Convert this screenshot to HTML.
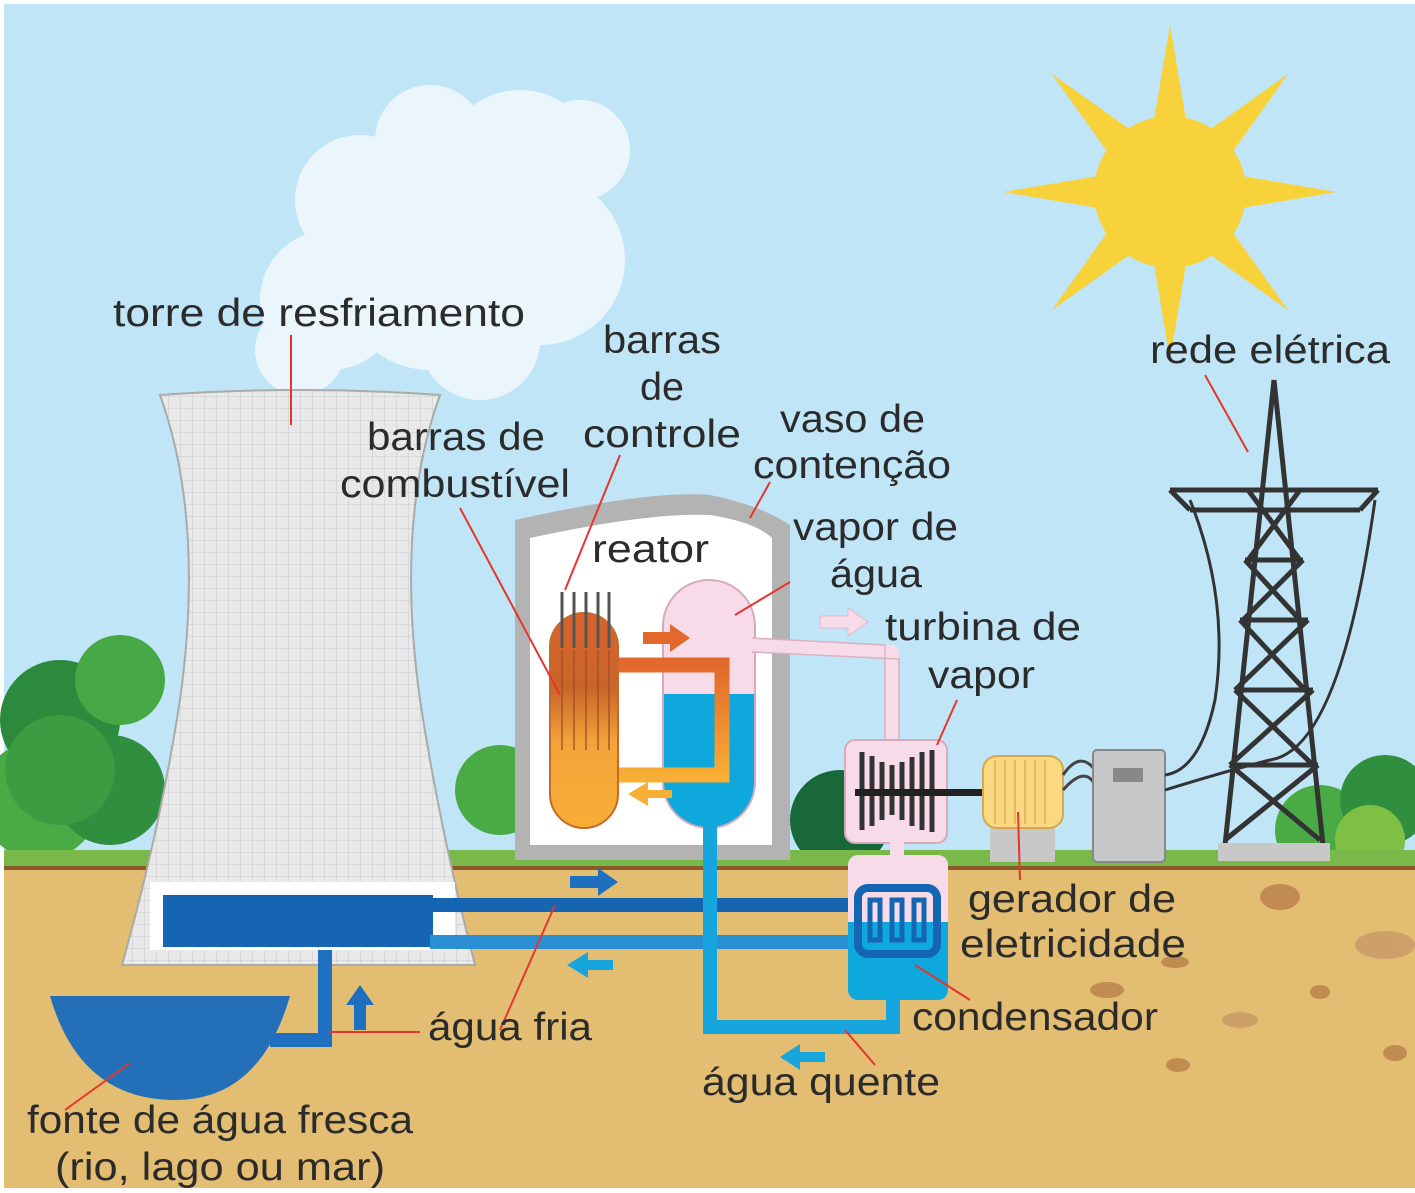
<!DOCTYPE html>
<html><head><meta charset="utf-8"><style>
html,body{margin:0;padding:0;background:#fff}
svg{display:block}
text{font-family:"Liberation Sans",sans-serif;font-size:39px;fill:#2b2b2b}
</style></head><body>
<svg width="1415" height="1193" viewBox="0 0 1415 1193" xmlns="http://www.w3.org/2000/svg">
<defs>
<linearGradient id="fuel" x1="0" y1="0" x2="0" y2="1">
<stop offset="0" stop-color="#d9642a"/><stop offset="0.35" stop-color="#c9652a"/><stop offset="0.6" stop-color="#f3a33a"/><stop offset="1" stop-color="#f7ae35"/></linearGradient>
<linearGradient id="loop" x1="0" y1="0" x2="0" y2="1">
<stop offset="0" stop-color="#e2682c"/><stop offset="1" stop-color="#f7ae35"/></linearGradient>
<pattern id="grid" width="12" height="12" patternUnits="userSpaceOnUse">
<rect width="12" height="12" fill="#e9e9ea"/><path d="M0 0H12M0 0V12" stroke="#c9c9cc" stroke-width="1"/></pattern>
</defs>
<rect x="0" y="0" width="1415" height="1193" fill="#fff"/>
<rect x="4" y="4" width="1411" height="1184" fill="#bfe5f7"/>
<!-- cloud -->
<g fill="#ebf6fc">
<circle cx="520" cy="170" r="80"/><circle cx="430" cy="140" r="55"/><circle cx="580" cy="150" r="50"/>
<circle cx="360" cy="200" r="65"/><circle cx="330" cy="300" r="70"/><circle cx="430" cy="280" r="90"/>
<circle cx="540" cy="260" r="85"/><circle cx="300" cy="350" r="45"/><circle cx="480" cy="340" r="60"/>
</g>
<!-- sun -->
<g fill="#f8d23a" transform="translate(1170,192)">
<polygon points="-18,-60 0,-167 18,-60"/>
<polygon points="-18,-60 0,-167 18,-60" transform="rotate(45)"/>
<polygon points="-18,-60 0,-167 18,-60" transform="rotate(90)"/>
<polygon points="-18,-60 0,-167 18,-60" transform="rotate(135)"/>
<polygon points="-18,-60 0,-167 18,-60" transform="rotate(180)"/>
<polygon points="-18,-60 0,-167 18,-60" transform="rotate(225)"/>
<polygon points="-18,-60 0,-167 18,-60" transform="rotate(270)"/>
<polygon points="-18,-60 0,-167 18,-60" transform="rotate(315)"/>
<circle cx="0" cy="0" r="76"/>
</g>
<!-- trees -->
<g>
<circle cx="60" cy="720" r="60" fill="#2c8a3c"/><circle cx="120" cy="680" r="45" fill="#46a845"/>
<circle cx="40" cy="800" r="60" fill="#4aab44"/><circle cx="110" cy="790" r="55" fill="#2f8f3f"/>
<circle cx="60" cy="770" r="55" fill="#3d9c42"/>
<circle cx="500" cy="790" r="45" fill="#4aab44"/>
<circle cx="840" cy="820" r="50" fill="#19683a"/>
<circle cx="1320" cy="830" r="45" fill="#4aab44"/><circle cx="1385" cy="800" r="45" fill="#2f8f3f"/>
<circle cx="1370" cy="840" r="35" fill="#7dc043"/>
</g>
<!-- ground -->
<rect x="4" y="850" width="1411" height="17" fill="#79b94a"/>
<rect x="4" y="866" width="1411" height="4" fill="#8a5a2a"/>
<rect x="4" y="870" width="1411" height="318" fill="#e2bd72"/>
<g fill="#b98048" opacity="0.8">
<ellipse cx="1280" cy="897" rx="20" ry="13"/><ellipse cx="1385" cy="945" rx="30" ry="14" fill="#c99868"/>
<ellipse cx="1107" cy="990" rx="17" ry="8"/><ellipse cx="1240" cy="1020" rx="18" ry="8" fill="#c99868"/>
<ellipse cx="1320" cy="992" rx="10" ry="7"/><ellipse cx="1395" cy="1053" rx="12" ry="8"/>
<ellipse cx="1178" cy="1065" rx="12" ry="7"/><ellipse cx="1175" cy="962" rx="14" ry="6"/>
</g>
<!-- cooling tower -->
<path d="M160 395 Q300 385 440 395 Q395 520 420 700 Q440 830 475 965 L122 965 Q160 830 180 700 Q205 520 160 395Z" fill="url(#grid)" stroke="#aaa" stroke-width="2"/>
<rect x="150" y="882" width="305" height="68" fill="#fff"/>
<rect x="163" y="895" width="270" height="52" fill="#1565b3"/>
<!-- lake -->
<path d="M50 996 L290 996 Q260 1100 175 1100 Q80 1100 50 996Z" fill="#2370b8"/>
<path d="M325 950 V1040 H270" fill="none" stroke="#1f70c0" stroke-width="14"/>
<!-- cold pipes -->
<rect x="430" y="898" width="430" height="14" fill="#1565b3"/>
<rect x="430" y="935" width="430" height="14" fill="#2a8fd3"/>
<!-- building -->
<path d="M515 520 Q650 490 710 495 Q760 505 790 525 V860 H515Z" fill="#b3b3b3"/>
<path d="M530 538 Q650 512 710 515 Q755 522 772 538 V845 H530Z" fill="#fff"/>
<!-- steam generator -->
<clipPath id="sg"><rect x="663" y="580" width="92" height="248" rx="46"/></clipPath>
<g clip-path="url(#sg)"><rect x="663" y="580" width="92" height="248" fill="#f7dbe9"/><rect x="663" y="694" width="92" height="140" fill="#0fa8dc"/></g>
<rect x="663" y="580" width="92" height="248" rx="46" fill="none" stroke="#d8a9bd" stroke-width="2"/>
<!-- orange loop -->
<path d="M615 665 H722 V775 H615" fill="none" stroke="url(#loop)" stroke-width="15"/>
<!-- reactor -->
<rect x="550" y="613" width="68" height="215" rx="34" fill="url(#fuel)" stroke="#c46a2a" stroke-width="2"/>
<g stroke="#555" stroke-width="3">
<line x1="562" y1="592" x2="562" y2="648"/><line x1="574" y1="592" x2="574" y2="648"/><line x1="586" y1="592" x2="586" y2="648"/><line x1="598" y1="592" x2="598" y2="648"/><line x1="609" y1="592" x2="609" y2="648"/>
</g>
<g stroke="#a0522a" stroke-width="2" opacity="0.7">
<line x1="562" y1="650" x2="562" y2="750"/><line x1="574" y1="650" x2="574" y2="750"/><line x1="586" y1="650" x2="586" y2="750"/><line x1="598" y1="650" x2="598" y2="750"/><line x1="609" y1="650" x2="609" y2="750"/>
</g>
<!-- arrows -->
<path d="M643 632 H670 V624 L690 638 L670 652 V644 H643Z" fill="#e2682c"/>
<path d="M672 798 H648 V806 L628 794 L648 782 V790 H672Z" fill="#f7ae35"/>
<path d="M820 616 H848 V608 L868 622 L848 636 V628 H820Z" fill="#f7dbe9" stroke="#e8b8cc"/>
<path d="M570 876 H598 V868 L618 882 L598 896 V888 H570Z" fill="#1f6fc0"/>
<path d="M613 960 H588 V952 L567 965 L588 978 V970 H613Z" fill="#16a6dd"/>
<path d="M825 1052 H800 V1044 L780 1057 L800 1070 V1062 H825Z" fill="#16a6dd"/>
<path d="M354 1030 V1005 H346 L360 985 L374 1005 H366 V1030Z" fill="#1f6fc0"/>
<!-- pink steam pipe -->
<path d="M752 645 L892 652 V742" fill="none" stroke="#f7dbe9" stroke-width="14" stroke-linejoin="round"/>
<path d="M752 638 L885 645 V742 M752 652 L899 659 V742" fill="none" stroke="#dcb0c3" stroke-width="1.5"/>
<!-- hot water pipe -->
<path d="M710 826 V1027 H893 V995" fill="none" stroke="#16a6dd" stroke-width="14"/>
<!-- turbine -->
<rect x="845" y="740" width="102" height="103" rx="10" fill="#f7dbe9" stroke="#d8a9bd" stroke-width="2"/>
<g stroke="#333" stroke-width="5">
<line x1="862" y1="752" x2="862" y2="830"/><line x1="872" y1="756" x2="872" y2="826"/><line x1="882" y1="762" x2="882" y2="820"/><line x1="892" y1="765" x2="892" y2="815"/><line x1="902" y1="762" x2="902" y2="820"/><line x1="912" y1="757" x2="912" y2="826"/><line x1="922" y1="752" x2="922" y2="830"/><line x1="932" y1="750" x2="932" y2="832"/>
</g>
<rect x="855" y="789" width="130" height="7" fill="#222"/>
<rect x="890" y="840" width="14" height="18" fill="#f7dbe9"/>
<!-- condenser -->
<clipPath id="cd"><rect x="848" y="855" width="100" height="145" rx="10"/></clipPath>
<g clip-path="url(#cd)"><rect x="848" y="855" width="100" height="145" fill="#f7dbe9"/><rect x="848" y="922" width="100" height="80" fill="#0fa8dc"/></g>
<rect x="858" y="888" width="79" height="66" rx="10" fill="none" stroke="#1565b3" stroke-width="8"/>
<g fill="none" stroke="#1565b3" stroke-width="5"><rect x="870" y="900" width="10" height="40"/><rect x="892" y="900" width="10" height="40"/><rect x="914" y="900" width="10" height="40"/></g>
<!-- generator -->
<rect x="990" y="820" width="65" height="42" fill="#c8c8c8"/>
<rect x="983" y="756" width="80" height="72" rx="14" fill="#fbd982" stroke="#d8a850" stroke-width="2"/>
<g stroke="#e6b860" stroke-width="2"><line x1="995" y1="760" x2="995" y2="824"/><line x1="1005" y1="760" x2="1005" y2="824"/><line x1="1015" y1="760" x2="1015" y2="824"/><line x1="1025" y1="760" x2="1025" y2="824"/><line x1="1035" y1="760" x2="1035" y2="824"/><line x1="1045" y1="760" x2="1045" y2="824"/></g>
<path d="M1063 775 Q1080 750 1095 770 M1063 790 Q1085 765 1095 785" fill="none" stroke="#444" stroke-width="3"/>
<!-- transformer -->
<rect x="1093" y="750" width="72" height="112" rx="4" fill="#c5c7c8" stroke="#888" stroke-width="2"/>
<rect x="1113" y="768" width="30" height="14" fill="#888"/>
<path d="M1165 775 Q1200 770 1215 700 Q1230 600 1190 500 M1165 790 Q1230 770 1270 760 Q1340 750 1375 500" fill="none" stroke="#333" stroke-width="3"/>
<!-- pylon -->
<g stroke="#333" stroke-width="5" fill="none">
<path d="M1274 380 L1225 845 M1274 380 L1323 845"/>
<path d="M1170 490 H1378 M1190 510 H1360 M1170 490 L1190 510 M1378 490 L1360 510"/>
<path d="M1248 490 L1300 560 M1300 490 L1248 560 M1245 560 H1303"/>
<path d="M1245 560 L1300 620 M1303 560 L1243 620 M1240 620 H1308 M1240 620 L1305 690 M1308 620 L1235 690 M1235 690 H1313 M1235 690 L1313 765 M1313 690 L1230 765 M1230 765 H1318 M1230 765 L1320 840 M1318 765 L1225 840"/>
</g>
<rect x="1218" y="843" width="112" height="18" fill="#c8c8c8"/>
<!-- leader lines -->
<g stroke="#e5352e" stroke-width="2" fill="none">
<line x1="291" y1="335" x2="291" y2="425"/>
<line x1="460" y1="508" x2="560" y2="695"/>
<line x1="620" y1="455" x2="565" y2="590"/>
<line x1="770" y1="482" x2="750" y2="518"/>
<line x1="790" y1="582" x2="735" y2="615"/>
<line x1="957" y1="700" x2="937" y2="745"/>
<line x1="1205" y1="375" x2="1248" y2="452"/>
<line x1="1018" y1="812" x2="1020" y2="880"/>
<line x1="915" y1="965" x2="970" y2="1000"/>
<line x1="555" y1="905" x2="500" y2="1030"/>
<line x1="330" y1="1032" x2="420" y2="1032"/>
<line x1="845" y1="1030" x2="875" y2="1065"/>
<line x1="130" y1="1063" x2="65" y2="1110"/>
</g>
<!-- labels -->
<g>
<text x="113" y="326" textLength="412" lengthAdjust="spacingAndGlyphs">torre de resfriamento</text>
<text x="603" y="353" textLength="118" lengthAdjust="spacingAndGlyphs">barras</text>
<text x="640" y="400" textLength="44" lengthAdjust="spacingAndGlyphs">de</text>
<text x="583" y="447" textLength="158" lengthAdjust="spacingAndGlyphs">controle</text>
<text x="367" y="450" textLength="178" lengthAdjust="spacingAndGlyphs">barras de</text>
<text x="340" y="497" textLength="230" lengthAdjust="spacingAndGlyphs">combustível</text>
<text x="780" y="432" textLength="145" lengthAdjust="spacingAndGlyphs">vaso de</text>
<text x="753" y="478" textLength="198" lengthAdjust="spacingAndGlyphs">contenção</text>
<text x="592" y="562" textLength="117" lengthAdjust="spacingAndGlyphs">reator</text>
<text x="793" y="540" textLength="165" lengthAdjust="spacingAndGlyphs">vapor de</text>
<text x="830" y="587" textLength="92" lengthAdjust="spacingAndGlyphs">água</text>
<text x="885" y="640" textLength="196" lengthAdjust="spacingAndGlyphs">turbina de</text>
<text x="928" y="688" textLength="107" lengthAdjust="spacingAndGlyphs">vapor</text>
<text x="1150" y="363" textLength="240" lengthAdjust="spacingAndGlyphs">rede elétrica</text>
<text x="968" y="912" textLength="208" lengthAdjust="spacingAndGlyphs">gerador de</text>
<text x="960" y="957" textLength="226" lengthAdjust="spacingAndGlyphs">eletricidade</text>
<text x="912" y="1030" textLength="246" lengthAdjust="spacingAndGlyphs">condensador</text>
<text x="428" y="1040" textLength="164" lengthAdjust="spacingAndGlyphs">água fria</text>
<text x="702" y="1095" textLength="238" lengthAdjust="spacingAndGlyphs">água quente</text>
<text x="27" y="1133" textLength="386" lengthAdjust="spacingAndGlyphs">fonte de água fresca</text>
<text x="55" y="1180" textLength="330" lengthAdjust="spacingAndGlyphs">(rio, lago ou mar)</text>
</g>
</svg>
</body></html>
